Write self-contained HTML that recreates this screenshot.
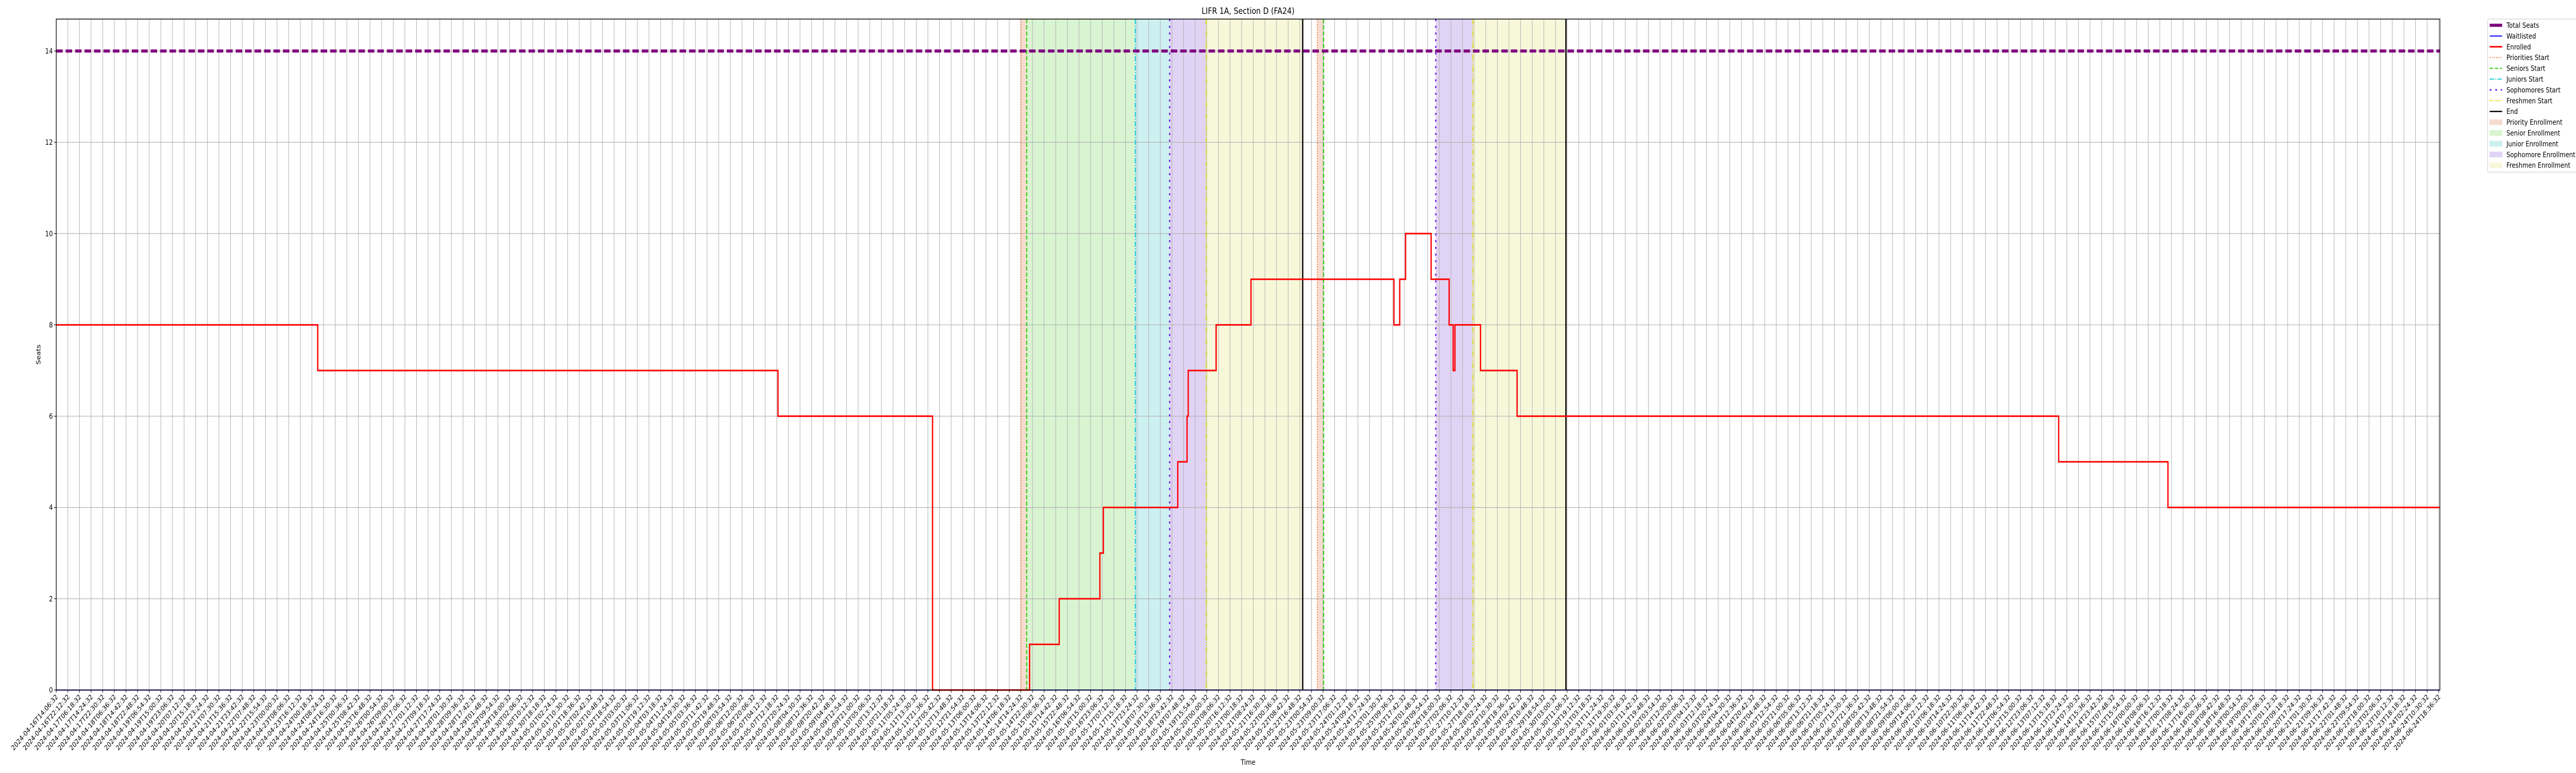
<!DOCTYPE html>
<html><head><meta charset="utf-8"><style>
html,body{margin:0;padding:0;background:#fff;overflow:hidden;width:100%;height:100%;}
svg{display:block;width:100vw;height:100vh;font-family:"DejaVu Sans","Liberation Sans",sans-serif;}
</style></head><body>
<svg id="chart" viewBox="0 0 6000 1500" preserveAspectRatio="none" xmlns="http://www.w3.org/2000/svg">
<text x="2907" y="27" font-size="17" text-anchor="middle">LIFR 1A, Section D (FA24)</text>
<text x="2907" y="1484" font-size="14" text-anchor="middle">Time</text>
<text x="0" y="0" font-size="14" text-anchor="middle" transform="translate(94,688) rotate(-90)">Seats</text>
<g id="bands"></g><g id="grid"></g><g id="vlines"></g><g id="series"></g><g id="axes"></g><g id="legend"></g>
</svg>
<script>
// ---- data ----
const tickCount = 206;
const tickStartISO = "2024-04-16T14:06:32";
const tickLabels = [];
(function(){ let t = Date.parse(tickStartISO+"Z"); for (let i=0;i<tickCount;i++){ tickLabels.push(new Date(t).toISOString().slice(0,19)); t += (8*3600+6*60)*1000; } })();
const yTicks = [0,2,4,6,8,10,12,14];
const totalSeats = 14;
const enrolledX = [0,22.5,62.1,75.4,83.75,86.3,89.8,90.1,96.5,97.3,97.4,99.8,102.8,115.1,115.6,116.1,118.3,119.85,120.2,120.35,122.55,125.7,172.3,181.7,205.1];
const enrolledY = [8,7,6,0,1,2,3,4,5,6,7,8,9,8,9,10,9,8,7,8,7,6,5,4,4];
const waitX = [0,205.1];
const waitY = [0,0];
const bandStart = [83.0,83.5,92.85,95.8,98.95,108.5,118.7,121.9];
const bandEnd   = [83.5,92.85,95.8,98.95,107.25,109.05,121.9,129.9];
const bandKind  = ["priority","senior","junior","sophomore","freshmen","priority","sophomore","freshmen"];
const markerX   = [83.0,83.5,92.85,95.8,98.95,107.25,108.5,109.05,118.7,121.9,129.9];
const markerKind= ["priorities","seniors","juniors","sophomores","freshmen","end","priorities","seniors","sophomores","freshmen","end"];
// ---- layout ----
const L=131,R=5683,T=37,B=1339, xMax=205.1, yMax=14.7;
const X=v=>L+(v/xMax)*(R-L);
const Y=v=>B-(v/yMax)*(B-T);
const NS="http://www.w3.org/2000/svg";
function mk(tag,attrs,parent){const e=document.createElementNS(NS,tag);for(const k in attrs)e.setAttribute(k,attrs[k]);parent.appendChild(e);return e;}
const bandFill={priority:"#f5dccf",senior:"#d9f4d1",junior:"#cdf0f1",sophomore:"#e0d3f4",freshmen:"#f7f8da"};
const lineStyle={priorities:["#f06a2a","2,3",2],seniors:["#33cc11","8,4",2.5],juniors:["#11c8d8","10,3,2,3",2.5],sophomores:["#6a1ee0","4,9",3],freshmen:["#e0e020","10,3,2,3,2,3",2.5],end:["#000","",3]};
const gB=document.getElementById('bands');
for(let i=0;i<bandStart.length;i++){
  const r=mk('rect',{x:X(bandStart[i]),y:T,width:X(bandEnd[i])-X(bandStart[i]),height:B-T,fill:bandFill[bandKind[i]]},gB);
  
  
}
const gG=document.getElementById('grid');
for(let i=0;i<tickCount;i++){
  const l=mk('line',{x1:X(i),x2:X(i),y1:T,y2:B,stroke:"#b0b0b0","stroke-width":1.2},gG);
  
  
}
for(const v of yTicks){
  const l=mk('line',{x1:L,x2:R,y1:Y(v),y2:Y(v),stroke:"#b0b0b0","stroke-width":1.2},gG);
  
  
}
const gV=document.getElementById('vlines');
for(let i=0;i<markerX.length;i++){
  const s=lineStyle[markerKind[i]];
  const l=mk('line',{x1:X(markerX[i]),x2:X(markerX[i]),y1:T,y2:B,stroke:s[0],"stroke-width":s[2],"stroke-dasharray":s[1]},gV);
  
  
}
const gS=document.getElementById('series');
const ts=mk('line',{x1:L,x2:R,y1:Y(totalSeats),y2:Y(totalSeats),stroke:"#800080","stroke-width":6,"stroke-dasharray":"15,7"},gS);


function stepPath(xs,ys){let d="M"+X(xs[0])+","+Y(ys[0]);for(let i=1;i<xs.length;i++){d+=" L"+X(xs[i])+","+Y(ys[i-1])+" L"+X(xs[i])+","+Y(ys[i]);}return d;}
const wl=mk('path',{d:stepPath(waitX,waitY),stroke:"#0000ff","stroke-width":2,fill:"none"},gS);


const en=mk('path',{d:stepPath(enrolledX,enrolledY),stroke:"#ff0000","stroke-width":3,fill:"none"},gS);


const gA=document.getElementById('axes');
const fr=mk('rect',{x:L,y:T,width:R-L,height:B-T,fill:"none",stroke:"#000","stroke-width":1.5},gA);


for(const v of yTicks){
  mk('line',{x1:L-5,x2:L,y1:Y(v),y2:Y(v),stroke:"#000","stroke-width":1.2},gA);
  const t=mk('text',{x:L-8,y:Y(v)+5,"font-size":14,"text-anchor":"end"},gA);
  t.textContent=v;
  
  
}
for(let i=0;i<tickCount;i++){
  mk('line',{x1:X(i),x2:X(i),y1:B,y2:B+5,stroke:"#000","stroke-width":1.2},gA);
  const t=mk('text',{x:0,y:0,"font-size":13.5,"text-anchor":"end",transform:"translate("+(X(i)+5)+","+(B+14)+") rotate(-45)"},gA);
  t.textContent=tickLabels[i];
  
  
}
// legend
const gL=document.getElementById('legend');
const lb=mk('rect',{x:5794,y:37,width:230,height:297,rx:3,fill:"#fff",stroke:"#d0d0d0","stroke-width":1.2},gL);


const entries=[["Total Seats","line","#800080","",6],["Waitlisted","line","#0000ff","",2],["Enrolled","line","#ff0000","",3],["Priorities Start","line","#f06a2a","2,3",2],["Seniors Start","line","#33cc11","8,4",2],["Juniors Start","line","#11c8d8","10,3,2,3",2],["Sophomores Start","line","#6a1ee0","4,9",3],["Freshmen Start","line","#e0e020","6,2,2,2,2,2",2],["End","line","#000","",2.5],["Priority Enrollment","box","#f5dccf"],["Senior Enrollment","box","#d9f4d1"],["Junior Enrollment","box","#cdf0f1"],["Sophomore Enrollment","box","#e0d3f4"],["Freshmen Enrollment","box","#f7f8da"]];
entries.forEach((e,i)=>{
  const cy=49+i*20.9;
  if(e[1]==="line"){mk('line',{x1:5799,x2:5828,y1:cy,y2:cy,stroke:e[2],"stroke-width":e[4],"stroke-dasharray":e[3]},gL);}
  else{mk('rect',{x:5799,y:cy-5,width:29,height:10,fill:e[2],stroke:e[2]},gL);}
  const t=mk('text',{x:5838,y:cy+5,"font-size":14},gL);
  t.textContent=e[0];
  
  
});
</script>
</body></html>
